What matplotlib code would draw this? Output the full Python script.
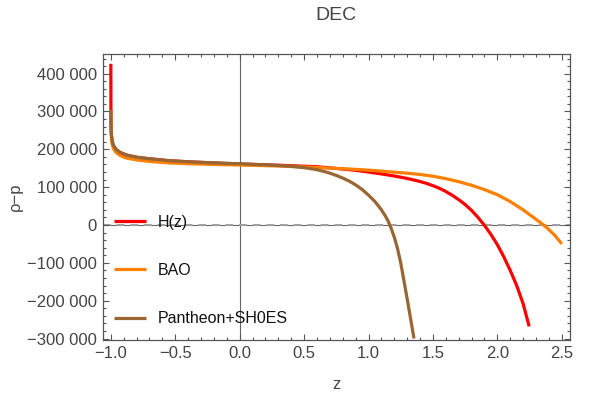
import matplotlib.pyplot as plt
from matplotlib.ticker import MultipleLocator, FuncFormatter

# values (rho - p)
z_hz = [-1.0, -0.9995, -0.999, -0.996, -0.99, -0.98, -0.96, -0.93, -0.88, -0.8, -0.7, -0.55, -0.4, -0.2,
        0.0, 0.3, 0.6, 0.8, 0.9, 1.0, 1.1, 1.2, 1.3, 1.4, 1.45, 1.5, 1.55, 1.6, 1.65, 1.7, 1.75, 1.8,
        1.85, 1.9, 1.95, 2.0, 2.05, 2.1, 2.15, 2.2, 2.247]
rho_hz = [426000, 330000, 268000, 240000, 222000, 210000, 200000, 192000, 185000, 179000, 175000, 170000,
          167000, 164000, 161000, 158000, 154000, 148000, 144500, 140000, 135000, 129500, 123000, 115000,
          110000, 104000, 97000, 88500, 78500, 67000, 54000, 38500, 20000, -1000, -25000, -52000, -84000,
          -120000, -160000, -208000, -268000]

z_bao = [-1.0, -0.999, -0.996, -0.99, -0.98, -0.96, -0.93, -0.88, -0.8, -0.7, -0.55, -0.4, -0.2,
         0.0, 0.3, 0.6, 0.9, 1.0, 1.1, 1.2, 1.3, 1.4, 1.5, 1.6, 1.7, 1.8, 1.9, 2.0, 2.1, 2.2, 2.3,
         2.359, 2.4, 2.45, 2.5]
rho_bao = [300000, 258000, 232000, 214000, 202000, 192000, 184000, 177000, 172000, 168000, 164000,
           162000, 160000, 158500, 156000, 152000, 147000, 145000, 142500, 139500, 137000, 133500,
           129000, 122500, 114500, 105000, 93500, 80000, 62000, 40000, 15000, 0, -12000, -29000, -50000]

z_pan = [-1.0, -0.999, -0.996, -0.99, -0.98, -0.96, -0.93, -0.88, -0.8, -0.7, -0.55, -0.4, -0.2,
         0.0, 0.2, 0.4, 0.5, 0.55, 0.6, 0.65, 0.7, 0.75, 0.8, 0.85, 0.9, 0.95, 1.0, 1.05, 1.1, 1.125,
         1.15, 1.175, 1.2, 1.225, 1.25, 1.3, 1.353]
rho_pan = [305000, 265000, 240000, 222000, 210000, 200000, 192000, 185000, 179000, 175000, 170000,
           167000, 164000, 162000, 159000, 155000, 151500, 149000, 146000, 142000, 137000, 131000,
           124000, 116000, 106000, 94000, 79000, 62000, 40000, 27000, 12000, -8000, -32000, -62000,
           -100000, -195000, -300000]

series = [("H(z)", z_hz, rho_hz, "#ff0000"),
          ("BAO", z_bao, rho_bao, "#ff8000"),
          ("Pantheon+SH0ES", z_pan, rho_pan, "#996633")]

plt.rcParams['font.family'] = ['Liberation Sans', 'DejaVu Sans']
gray = "#555555"

fig = plt.figure(figsize=(6.0, 3.94), dpi=100)
ax = fig.add_axes([0.171, 0.137, 0.779, 0.727])

ax.axhline(0, color="#666666", lw=0.8, zorder=1)
ax.axvline(0, color="#666666", lw=0.8, zorder=1)
ax.axhline(0, color="#a0a0a0", lw=1.4, ls=(0, (4, 3)), zorder=1.5)

for name, z, r, c in series:
    ax.plot(z, r, color=c, lw=2.3, label=name, solid_capstyle="butt", solid_joinstyle="round", zorder=2)

ax.set_xlim(-1.064, 2.564)
ax.set_ylim(-304000, 453000)

ax.xaxis.set_major_locator(MultipleLocator(0.5))
ax.xaxis.set_minor_locator(MultipleLocator(0.1))
ax.yaxis.set_major_locator(MultipleLocator(100000))
ax.yaxis.set_minor_locator(MultipleLocator(20000))

def yfmt(v, pos):
    s = "{:,}".format(int(abs(round(v)))).replace(",", " ")
    return ("\u2212" + s) if v < 0 else s

def xfmt(v, pos):
    s = "{:.1f}".format(abs(v))
    return ("\u2212" + s) if v < -1e-9 else s

ax.yaxis.set_major_formatter(FuncFormatter(yfmt))
ax.xaxis.set_major_formatter(FuncFormatter(xfmt))

ax.tick_params(which="both", direction="in", top=True, right=True, colors=gray,
               labelcolor="#444444", labelsize=12, width=0.8)
ax.tick_params(which="major", length=4, pad=4)
ax.tick_params(which="minor", length=2.2)
for sp in ax.spines.values():
    sp.set_color(gray)
    sp.set_linewidth(0.9)

ax.set_xlabel("z", fontsize=12, color="#444444", labelpad=12)
ax.set_ylabel("\u03c1\u2212p", fontsize=12, color="#444444", labelpad=3)
ax.set_title("DEC", fontsize=14, color="#444444", pad=24)

leg = ax.legend(loc="upper left", bbox_to_anchor=(0.0, 0.476), frameon=False, fontsize=11.5,
                handlelength=2.0, handletextpad=0.75, labelspacing=2.08, borderaxespad=0.3)
for t in leg.get_texts():
    t.set_color("#111111")

fig.savefig("out.png", dpi=100)
